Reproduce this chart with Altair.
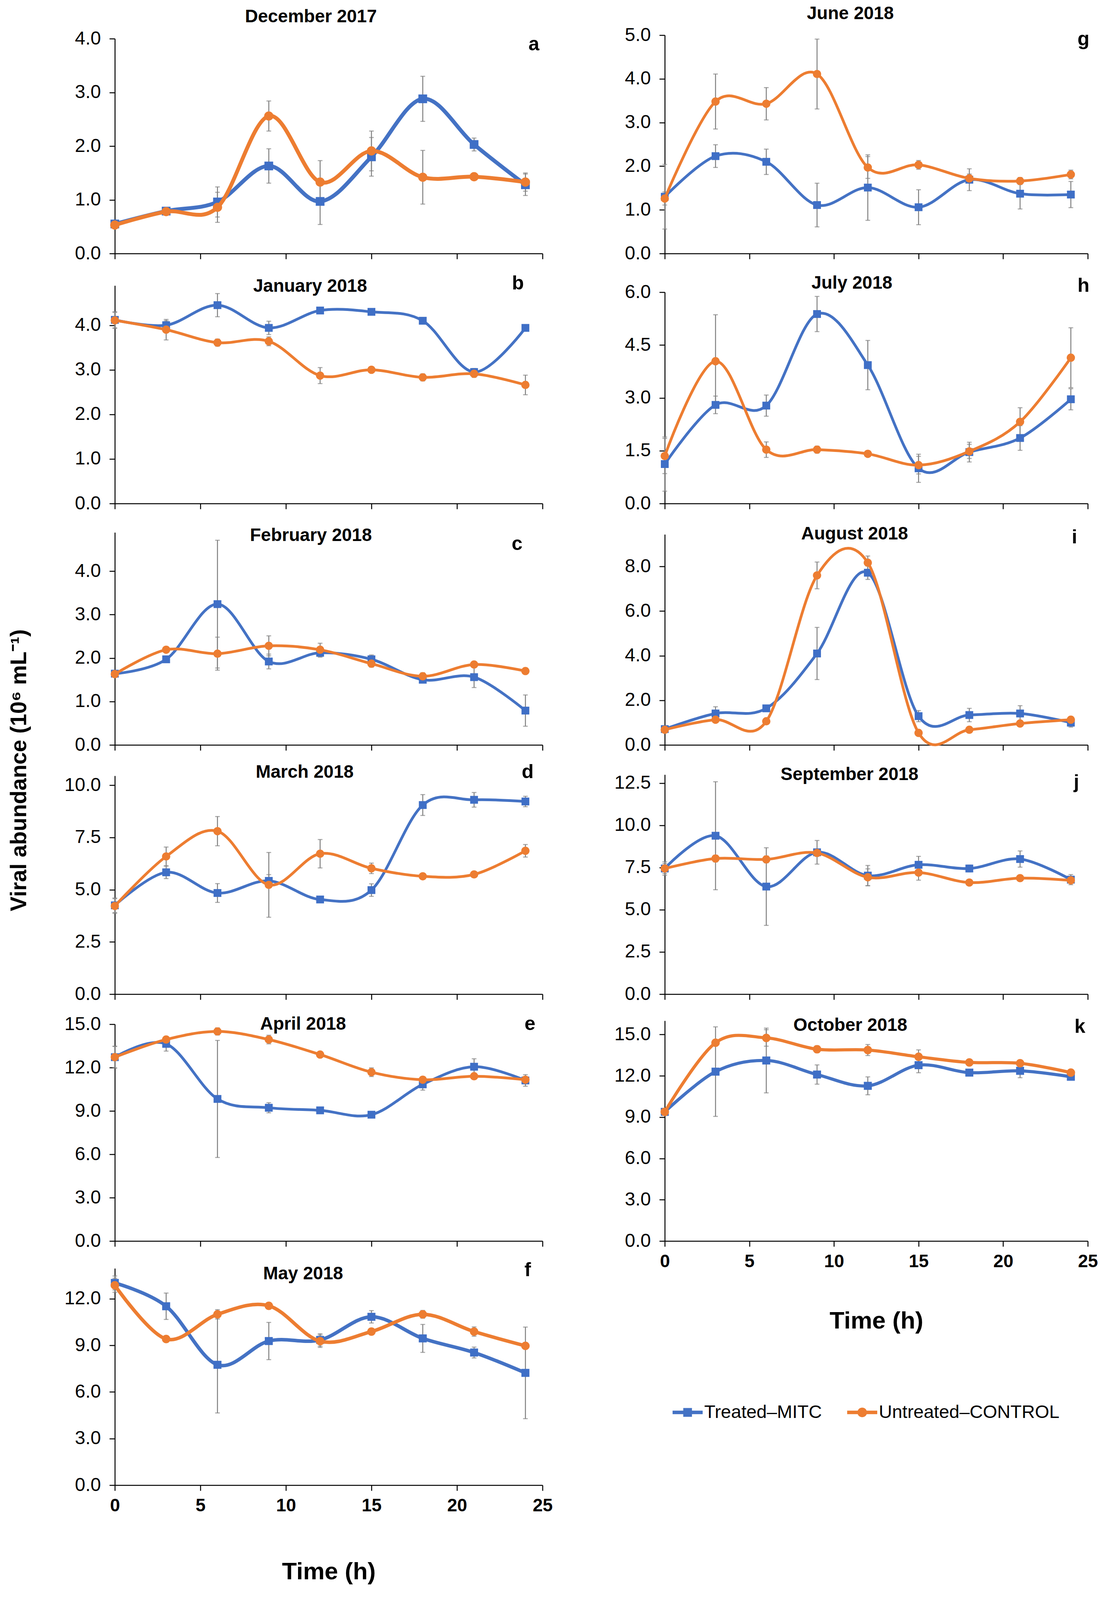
import altair as alt
import pandas as pd

# ---------------- data ----------------
TIME = [0, 3, 6, 9, 12, 15, 18, 21, 24]
SERIES = ["Treated–MITC", "Untreated–CONTROL"]
X_TICKS = [0, 5, 10, 15, 20, 25]

# December 2017
T_DEC = [0.55, 0.79, 0.96, 1.63, 0.97, 1.80, 2.88, 2.03, 1.28]
T_DEC_SD = [0.03, 0.03, 0.28, 0.32, 0.43, 0.36, 0.42, 0.12, 0.20]
C_DEC = [0.53, 0.78, 0.86, 2.56, 1.33, 1.91, 1.42, 1.43, 1.33]
C_DEC_SD = [0.03, 0.03, 0.28, 0.28, 0.40, 0.37, 0.50, 0.03, 0.17]
# January 2018
T_JAN = [4.12, 4.00, 4.45, 3.94, 4.33, 4.30, 4.10, 2.95, 3.94]
T_JAN_SD = [0.18, 0.10, 0.26, 0.15, 0.03, 0.05, 0.05, 0.08, 0.06]
C_JAN = [4.11, 3.90, 3.61, 3.64, 2.87, 3.00, 2.83, 2.91, 2.66]
C_JAN_SD = [0.18, 0.23, 0.08, 0.10, 0.18, 0.04, 0.08, 0.08, 0.22]
# February 2018
T_FEB = [1.64, 1.97, 3.24, 1.92, 2.12, 1.97, 1.50, 1.56, 0.79]
T_FEB_SD = [0.05, 0.05, 1.47, 0.17, 0.10, 0.10, 0.05, 0.24, 0.36]
C_FEB = [1.63, 2.19, 2.10, 2.28, 2.19, 1.87, 1.58, 1.85, 1.70]
C_FEB_SD = [0.05, 0.05, 0.38, 0.23, 0.15, 0.08, 0.08, 0.05, 0.05]
# March 2018
T_MAR = [4.25, 5.83, 4.84, 5.42, 4.53, 4.98, 9.05, 9.30, 9.22]
T_MAR_SD = [0.35, 0.30, 0.45, 0.30, 0.10, 0.30, 0.50, 0.35, 0.25]
C_MAR = [4.22, 6.59, 7.80, 5.23, 6.72, 6.02, 5.64, 5.73, 6.86]
C_MAR_SD = [0.35, 0.45, 0.70, 1.55, 0.68, 0.25, 0.10, 0.10, 0.30]
# April 2018
T_APR = [12.72, 13.64, 9.83, 9.22, 9.04, 8.74, 10.84, 12.06, 11.11]
T_APR_SD = [0.75, 0.50, 4.05, 0.35, 0.15, 0.15, 0.40, 0.55, 0.40]
C_APR = [12.72, 13.94, 14.50, 13.94, 12.90, 11.68, 11.16, 11.40, 11.16]
C_APR_SD = [0.75, 0.20, 0.25, 0.30, 0.20, 0.30, 0.20, 0.20, 0.20]
# May 2018
T_MAY = [13.02, 11.52, 7.75, 9.28, 9.35, 10.84, 9.45, 8.54, 7.23]
T_MAY_SD = [0.45, 0.85, 3.10, 1.20, 0.40, 0.40, 0.90, 0.35, 2.95]
C_MAY = [12.87, 9.41, 11.00, 11.55, 9.27, 9.89, 11.00, 9.89, 8.97]
C_MAY_SD = [0.45, 0.15, 0.30, 0.15, 0.40, 0.20, 0.25, 0.30, 0.15]
# June 2018
T_JUN = [1.30, 2.23, 2.10, 1.11, 1.51, 1.06, 1.69, 1.37, 1.35]
T_JUN_SD = [0.74, 0.26, 0.29, 0.50, 0.75, 0.40, 0.25, 0.35, 0.30]
C_JUN = [1.26, 3.48, 3.43, 4.11, 1.97, 2.03, 1.72, 1.66, 1.81]
C_JUN_SD = [0.15, 0.63, 0.37, 0.80, 0.25, 0.10, 0.10, 0.08, 0.10]
# July 2018
T_JUL = [1.12, 2.80, 2.78, 5.38, 3.93, 1.00, 1.46, 1.86, 2.96]
T_JUL_SD = [0.77, 0.25, 0.30, 0.50, 0.70, 0.40, 0.28, 0.35, 0.30]
C_JUL = [1.35, 4.04, 1.53, 1.53, 1.41, 1.09, 1.48, 2.32, 4.14]
C_JUL_SD = [0.50, 1.32, 0.22, 0.10, 0.05, 0.25, 0.20, 0.40, 0.85]
# August 2018
T_AUG = [0.71, 1.41, 1.64, 4.10, 7.72, 1.29, 1.34, 1.41, 1.00]
T_AUG_SD = [0.05, 0.30, 0.05, 1.17, 0.30, 0.25, 0.30, 0.35, 0.20]
C_AUG = [0.68, 1.13, 1.06, 7.60, 8.17, 0.54, 0.68, 0.96, 1.13]
C_AUG_SD = [0.05, 0.10, 0.10, 0.60, 0.30, 0.10, 0.10, 0.10, 0.10]
# September 2018
T_SEP = [7.44, 9.38, 6.37, 8.40, 7.02, 7.66, 7.44, 8.00, 6.78]
T_SEP_SD = [0.40, 3.20, 2.30, 0.70, 0.60, 0.50, 0.20, 0.48, 0.30]
C_SEP = [7.44, 8.03, 7.98, 8.36, 6.92, 7.20, 6.61, 6.87, 6.74]
C_SEP_SD = [0.30, 0.20, 0.20, 0.20, 0.50, 0.45, 0.15, 0.10, 0.10]
# October 2018
T_OCT = [9.38, 12.30, 13.11, 12.09, 11.27, 12.77, 12.23, 12.36, 11.93]
T_OCT_SD = [0.20, 3.25, 2.35, 0.70, 0.65, 0.55, 0.20, 0.50, 0.20]
C_OCT = [9.38, 14.40, 14.75, 13.93, 13.87, 13.38, 12.97, 12.91, 12.23]
C_OCT_SD = [0.20, 0.20, 0.60, 0.25, 0.40, 0.50, 0.15, 0.15, 0.15]

TITLES = ["December 2017", "January 2018", "February 2018", "March 2018",
          "April 2018", "May 2018", "June 2018", "July 2018", "August 2018",
          "September 2018", "October 2018"]
LETTERS = ["a", "b", "c", "d", "e", "f", "g", "h", "i", "j", "k"]
Y_TICKS = [
    [0, 1, 2, 3, 4], [0, 1, 2, 3, 4], [0, 1, 2, 3, 4],
    [0, 2.5, 5, 7.5, 10], [0, 3, 6, 9, 12, 15], [0, 3, 6, 9, 12],
    [0, 1, 2, 3, 4, 5], [0, 1.5, 3, 4.5, 6], [0, 2, 4, 6, 8],
    [0, 2.5, 5, 7.5, 10, 12.5], [0, 3, 6, 9, 12, 15],
]
Y_MAX = [4.0, 4.89, 4.89, 10.45, 15.0, 13.96, 5.0, 6.0, 9.44, 13.0, 16.0]
DATA = [
    (T_DEC, T_DEC_SD, C_DEC, C_DEC_SD), (T_JAN, T_JAN_SD, C_JAN, C_JAN_SD),
    (T_FEB, T_FEB_SD, C_FEB, C_FEB_SD), (T_MAR, T_MAR_SD, C_MAR, C_MAR_SD),
    (T_APR, T_APR_SD, C_APR, C_APR_SD), (T_MAY, T_MAY_SD, C_MAY, C_MAY_SD),
    (T_JUN, T_JUN_SD, C_JUN, C_JUN_SD), (T_JUL, T_JUL_SD, C_JUL, C_JUL_SD),
    (T_AUG, T_AUG_SD, C_AUG, C_AUG_SD), (T_SEP, T_SEP_SD, C_SEP, C_SEP_SD),
    (T_OCT, T_OCT_SD, C_OCT, C_OCT_SD),
]

# ---------------- style / layout ----------------
BLUE = "#4472C4"
BLUE_MK = "#3F6FC6"
ORANGE = "#ED7D31"
GRAY = "#808080"
FONT = "Liberation Sans, Arial, Helvetica, sans-serif"

# cell heights (grid rows: a/g, b/h, c/i, d/j, e/k, f)
ROW_H = [577, 620, 598, 618, 612, 605]
ROW_OF = [0, 1, 2, 3, 4, 5, 0, 1, 2, 3, 4]
# offset of the top of each y axis inside its cell
Y_TOP = [27, 62, 54, 59, 57, 50, 18, 79, 59, 56, 48]
BOTTOM = [False, False, False, False, False, True, False, False, False, False, True]
X_TITLE_PAD = [100, 100, 100, 100, 100, 116, 100, 100, 100, 100, 99]
TITLE_POS = [(502, -29), (500, 64), (502, 62), (486, 50), (482, 57), (482, 64),
             (475, -37), (479, 56), (486, 58), (473, 56), (475, 60)]
LETTER_POS = [(1073, 42), (1032, 57), (1030, 84), (1057, 50), (1063, 57), (1057, 55),
              (1072, 29), (1072, 63), (1049, 67), (1054, 76), (1063, 64)]
LINE_W = [10, 7, 7, 7, 7, 9, 7, 7, 7, 7, 8]
SQ_SIZE = [500, 400, 400, 400, 400, 420, 400, 400, 400, 400, 420]
CI_SIZE = [560, 450, 450, 450, 450, 470, 450, 450, 450, 450, 470]
LEFT_W = 1095
RIGHT_W = 1083

PATH_SQ = "M-1,-0.12H1V0.12H-1Z M-0.29,-0.29H0.29V0.29H-0.29Z"
PATH_CI = "M-1,-0.12H1V0.12H-1Z M0.32,0A0.32,0.32 0 1,1 -0.32,0A0.32,0.32 0 1,1 0.32,0Z"


def make_df(tv, te, cv, ce):
    rows = []
    for s, vals, errs in ((SERIES[0], tv, te), (SERIES[1], cv, ce)):
        for t, v, e in zip(TIME, vals, errs):
            rows.append({"t": t, "v": v, "lo": v - e, "hi": v + e, "series": s})
    return pd.DataFrame(rows)


def text_layer(label, pos, size, angle=0):
    return alt.Chart(pd.DataFrame({"label": [label]})).mark_text(
        font=FONT, fontWeight="bold", fontSize=size, color="black",
        align="center", baseline="middle", angle=angle,
    ).encode(x=alt.value(pos[0]), y=alt.value(pos[1]), text="label:N")


def panel(i, width):
    df = make_df(*DATA[i])
    h = ROW_H[ROW_OF[i]]
    bottom = BOTTOM[i]
    x_axis = alt.Axis(
        values=X_TICKS, labels=bottom, title="Time (h)" if bottom else None,
        grid=False, domainColor="black", domainWidth=2.5, tickColor="black",
        tickWidth=2.5, tickSize=14, labelFont=FONT, labelFontWeight="bold",
        labelFontSize=46, labelColor="black", labelPadding=16, labelFlush=False,
        titleFont=FONT, titleFontWeight="bold", titleFontSize=62,
        titleColor="black", titlePadding=X_TITLE_PAD[i],
    )
    y_axis = alt.Axis(
        values=Y_TICKS[i], format=".1f", title=None, grid=False,
        domainColor="black", domainWidth=2.5, tickColor="black", tickWidth=2.5,
        tickSize=14, labelFont=FONT, labelFontSize=48, labelColor="black",
        labelPadding=22,
    )
    xs = alt.X("t:Q", scale=alt.Scale(domain=[0, 25], nice=False), axis=x_axis)
    ys = alt.Y("lo:Q", scale=alt.Scale(domain=[0, Y_MAX[i]], range=[h, Y_TOP[i]], nice=False),
               axis=y_axis)
    base = alt.Chart(df)
    rules = base.mark_rule(color=GRAY, strokeWidth=2.5).encode(x=xs, y=ys, y2="hi:Q")
    cap_lo = base.mark_tick(orient="horizontal", color=GRAY, size=12, thickness=2.5).encode(
        x="t:Q", y="lo:Q")
    cap_hi = base.mark_tick(orient="horizontal", color=GRAY, size=12, thickness=2.5).encode(
        x="t:Q", y="hi:Q")
    treated = base.transform_filter(alt.datum.series == SERIES[0])
    control = base.transform_filter(alt.datum.series == SERIES[1])
    lt = treated.mark_line(interpolate="cardinal", color=BLUE, strokeWidth=LINE_W[i]).encode(
        x="t:Q", y="v:Q")
    pt = treated.mark_square(color=BLUE_MK, size=SQ_SIZE[i], opacity=1).encode(x="t:Q", y="v:Q")
    lc = control.mark_line(interpolate="cardinal", color=ORANGE, strokeWidth=LINE_W[i]).encode(
        x="t:Q", y="v:Q")
    pc = control.mark_circle(color=ORANGE, size=CI_SIZE[i], opacity=1).encode(x="t:Q", y="v:Q")
    layers = [rules, cap_lo, cap_hi, lt, pt, lc, pc,
              text_layer(TITLES[i], TITLE_POS[i], 46),
              text_layer(LETTERS[i], LETTER_POS[i], 50)]
    if i == 3:
        layers.append(text_layer("Viral abundance (10⁶ mL⁻¹)", (-244, 45), 57, 270))
    if i == 10:
        leg = alt.Legend(
            title=None, orient="none", legendX=1428, legendY=3505,
            direction="horizontal", columns=2, symbolSize=5929, symbolStrokeWidth=0,
            labelFont=FONT, labelFontSize=47, labelColor="black",
            columnPadding=64, labelOffset=4, labelLimit=1000, padding=0,
        )
        dummy = alt.Chart(pd.DataFrame({"series": SERIES, "t": [0, 0], "v": [0, 0]})).transform_filter(
            "false").mark_point(filled=True, opacity=1).encode(
            x="t:Q", y="v:Q",
            color=alt.Color("series:N", scale=alt.Scale(domain=SERIES, range=[BLUE, ORANGE]), legend=leg),
            shape=alt.Shape("series:N", scale=alt.Scale(domain=SERIES, range=[PATH_SQ, PATH_CI]), legend=leg),
        )
        layers.append(dummy)
    return alt.layer(*layers).properties(width=width, height=h)


ORDER = [0, 6, 1, 7, 2, 8, 3, 9, 4, 10, 5]
cells = [panel(i, LEFT_W if i < 6 else RIGHT_W) for i in ORDER]

chart = alt.concat(
    *cells, columns=2, spacing=alt.RowColnumber(row=20, column=313), bounds="flush"
).properties(
    padding={"left": 12, "top": 4, "right": 0, "bottom": 20},
    background="white",
).configure_view(stroke=None)

chart.save("out.html", embed_options={"renderer": "svg", "actions": False})
